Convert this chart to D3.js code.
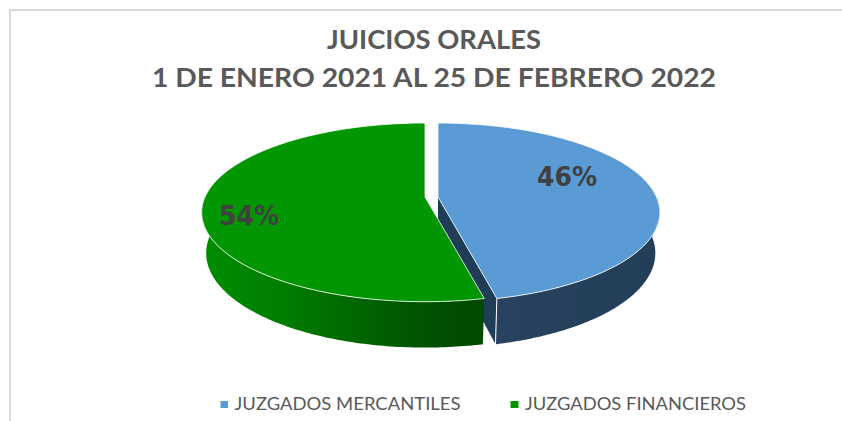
<!DOCTYPE html>
<html><head><meta charset="utf-8">
<script src="https://cdn.jsdelivr.net/npm/d3@7"></script>
<style>html,body{margin:0;padding:0;background:#fff}svg{display:block}</style>
</head><body><div id="c"></div>
<script>
const titleLines = ["JUICIOS ORALES", "1 DE ENERO 2021 AL 25 DE FEBRERO 2022"];
const categories = ["JUZGADOS MERCANTILES", "JUZGADOS FINANCIEROS"];
const values = [46.4, 53.6];
const colors = ["#5b9bd5", "#029602"];

const W = 842, H = 421;
const svg = d3.select("#c").append("svg").attr("width", W).attr("height", H);
const defs = svg.append("defs");

// frame
svg.append("path").attr("d", `M10,${H}V10H${W}`).attr("fill","none").attr("stroke","#d9d9d9").attr("stroke-width",2);

// title
const titleX = [434, 434], titleY = [49, 87], titleLen = [214, 564];
svg.selectAll("text.t").data(titleLines).join("text").attr("class","t")
  .attr("x",(d,i)=>titleX[i]).attr("y",(d,i)=>titleY[i]).attr("text-anchor","middle")
  .attr("font-family","Lato, 'Open Sans', sans-serif").attr("font-weight",700).attr("font-size",26)
  .attr("fill","#595959").attr("textLength",(d,i)=>titleLen[i]).attr("lengthAdjust","spacingAndGlyphs").text(d=>d);

// pie with perspective projection
const pie = d3.pie().sort(null).value(d=>d).startAngle(0).endAngle(2*Math.PI);
const arcs = pie(values);
const k = 0.172, Ry = 86.7, depth = 41, shrink = 0.02, cy = 197;
const geom = [{cx:438, Rx:218.5},{cx:425, Rx:220}];
function proj(g, a, r, z){
  const X = r*Math.sin(a), Y = -r*Math.cos(a);
  const s = 1/(1 - k*Y + shrink*z);
  return [g.cx + g.Rx*X*s, cy + (Ry*Y + depth*z)*s];
}
const samples = (a0,a1) => d3.range(0,121).map(i=>a0+(a1-a0)*i/120);
const line = d3.line();

const gG = defs.append("linearGradient").attr("id","gs").attr("gradientUnits","userSpaceOnUse")
  .attr("x1",204).attr("x2",481).attr("y1",0).attr("y2",0);
[[0,"#008c00"],[.3,"#007c00"],[.6,"#006200"],[.85,"#004f00"],[1,"#004a00"]].forEach(s=>gG.append("stop").attr("offset",s[0]).attr("stop-color",s[1]));
const gB = defs.append("linearGradient").attr("id","bs").attr("gradientUnits","userSpaceOnUse")
  .attr("x1",497).attr("x2",660).attr("y1",0).attr("y2",0);
[[0,"#28425f"],[1,"#223e57"]].forEach(s=>gB.append("stop").attr("offset",s[0]).attr("stop-color",s[1]));
const sideFill = ["url(#bs)","url(#gs)"];

function band(g,a0,a1){
  const top = samples(a0,a1).map(a=>proj(g,a,1,0));
  const bot = samples(a0,a1).map(a=>proj(g,a,1,1)).reverse();
  return line(top.concat(bot))+"Z";
}
function topFace(g,a0,a1){
  return line([proj(g,0,0,0)].concat(samples(a0,a1).map(a=>proj(g,a,1,0))))+"Z";
}

// blue slice
const b = arcs[0], gb = geom[0];
svg.append("path").attr("fill","#1f3d56")
  .attr("d",line([proj(gb,b.endAngle,0,0),proj(gb,b.endAngle,1,0),proj(gb,b.endAngle,1,1),proj(gb,b.endAngle,0,1)])+"Z");
svg.append("path").attr("fill",sideFill[0]).attr("d",band(gb,Math.PI/2,b.endAngle));
svg.append("path").attr("stroke","#fff").attr("stroke-width",1)
  .attr("d",line([proj(gb,b.endAngle,1,0),proj(gb,b.endAngle,1,1)]));
svg.append("path").attr("fill",colors[0]).attr("stroke","#fff").attr("stroke-width",.8).attr("d",topFace(gb,b.startAngle,b.endAngle));

// green slice
const a = arcs[1], ga = geom[1];
svg.append("path").attr("fill",sideFill[1]).attr("d",band(ga,a.startAngle,Math.PI*1.5));
svg.append("path").attr("fill",colors[1]).attr("stroke","#fff").attr("stroke-width",.8).attr("d",topFace(ga,a.startAngle,a.endAngle));

// data labels
const labelPos = [[567,186],[249,225]];
svg.selectAll("text.l").data(values).join("text").attr("class","l")
  .attr("x",(d,i)=>labelPos[i][0]).attr("y",(d,i)=>labelPos[i][1]).attr("text-anchor","middle")
  .attr("font-family","'DejaVu Sans', sans-serif").attr("font-weight",700).attr("font-size",27)
  .attr("fill","#404040").attr("textLength",60).attr("lengthAdjust","spacingAndGlyphs").text(d=>d3.format(".0f")(d)+"%");

// legend
const legX = [220.5, 510.5], legTextX = [234.5, 525], legLen = [226, 221];
const leg = svg.selectAll("g.leg").data(categories).join("g").attr("class","leg");
leg.append("rect").attr("x",(d,i)=>legX[i]).attr("y",401).attr("width",(d,i)=>i?8:7.5).attr("height",7).attr("fill",(d,i)=>colors[i]);
leg.append("text").attr("x",(d,i)=>legTextX[i]).attr("y",410)
  .attr("font-family","Lato, 'Open Sans', sans-serif").attr("font-size",17).attr("fill","#595959")
  .attr("textLength",(d,i)=>legLen[i]).attr("lengthAdjust","spacingAndGlyphs").text(d=>d);
</script></body></html>
